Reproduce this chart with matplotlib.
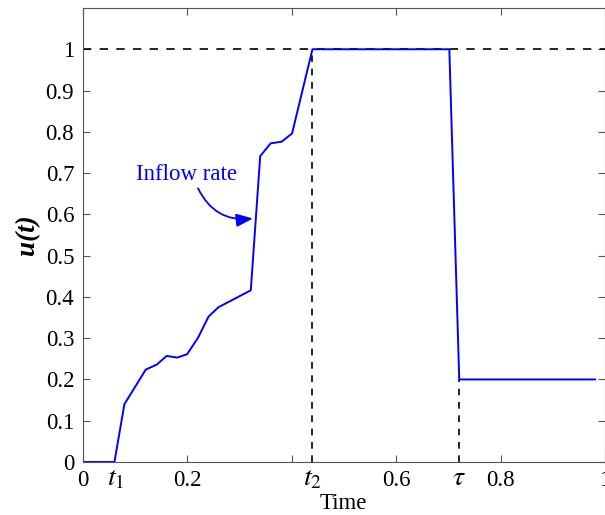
import matplotlib
matplotlib.use("Agg")
import matplotlib.pyplot as plt

plt.rcParams['font.family'] = ['Liberation Serif', 'DejaVu Serif']
plt.rcParams['mathtext.fontset'] = 'stix'

# inflow rate u(t)
t = [0, 0.061, 0.080, 0.121, 0.142, 0.161, 0.181, 0.200, 0.221, 0.241, 0.260,
     0.322, 0.340, 0.360, 0.381, 0.401, 0.440, 0.702, 0.721, 0.981]
u = [0, 0, 0.140, 0.224, 0.236, 0.257, 0.253, 0.261, 0.301, 0.352, 0.375,
     0.416, 0.741, 0.772, 0.776, 0.796, 1.0, 1.0, 0.2, 0.2]

t1 = 0.063
t2 = 0.44
tau = 0.72
u_tau = 0.2

xticks = [0, 0.2, 0.4, 0.6, 0.8, 1]
xticklabels = ['0', '0.2', '', '0.6', '0.8', '1']
yticks = [0, 0.1, 0.2, 0.3, 0.4, 0.5, 0.6, 0.7, 0.8, 0.9, 1]
yticklabels = ['0', '0.1', '0.2', '0.3', '0.4', '0.5', '0.6', '0.7', '0.8', '0.9', '1']

fig = plt.figure(figsize=(6.05, 5.15), dpi=100)
ax = fig.add_axes([0.1365, 0.1029, 0.8635, 0.8816])

ax.plot([0, 1], [1, 1], 'k--', lw=1.2, dashes=(5, 5))
ax.plot([t2, t2], [0, 1], 'k--', lw=1.2, dashes=(4, 4))
ax.plot([tau, tau], [0, u_tau], 'k--', lw=1.2, dashes=(4, 4))
ax.plot(t, u, color='#0000ff', lw=1.4)

# label + curved arrow
ax.text(0.199, 0.697, 'Inflow rate', color='#0000ff', fontsize=16.5,
        ha='center', va='center')
ax.annotate('', xy=(0.326, 0.590), xytext=(0.221, 0.663),
            arrowprops=dict(arrowstyle='-|>,head_length=1.0,head_width=0.4',
                            color='#0000ff', lw=1.3,
                            connectionstyle='arc3,rad=0.35', shrinkA=0, shrinkB=0))

ax.set_xlim(0, 1)
ax.set_ylim(0, 1.1)
ax.set_xticks(xticks)
ax.set_xticklabels(xticklabels)
ax.set_xticks([t1, t2, tau], minor=True)
ax.set_xticklabels([r'$t_{\mathit{1}}$', r'$t_2$', r'$\tau$'], minor=True, fontsize=20)
ax.set_yticks(yticks)
ax.set_yticklabels(yticklabels)
ax.tick_params(which='major', direction='in', length=5, top=True, right=True,
               labelsize=16.5, color='#555555', pad=6)
ax.tick_params(which='minor', length=0, pad=3)
for s in ax.spines.values():
    s.set_color('#555555')

ax.set_xlabel('Time', fontsize=16.5, labelpad=1)
ax.set_ylabel('u(t)', fontsize=19.5, fontstyle='italic', fontweight='bold', labelpad=4)

fig.savefig('out.png', dpi=100)
